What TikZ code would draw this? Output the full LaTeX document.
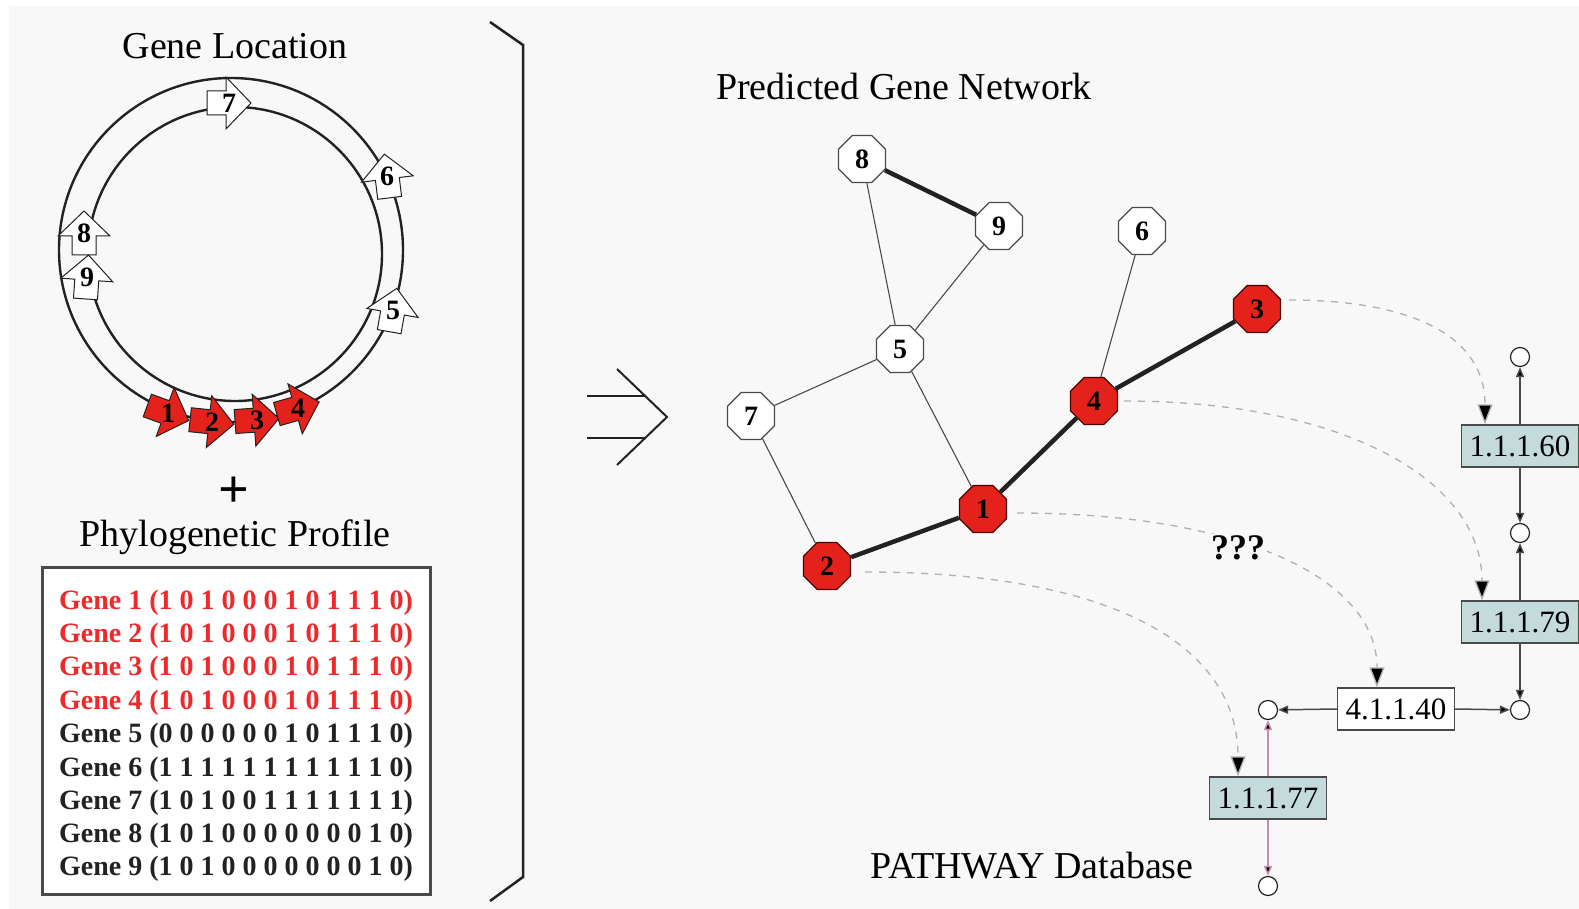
\documentclass[tikz,border=0pt]{standalone}
\usepackage{fontspec}
\setmainfont{Liberation Serif}
\usetikzlibrary{arrows.meta,shapes.geometric}

\definecolor{bg}{HTML}{F8F8F8}
\definecolor{genered}{HTML}{E4221B}
\definecolor{txtred}{HTML}{F0282A}
\definecolor{ecbox}{HTML}{C4DADB}
\definecolor{dashgray}{HTML}{B0B0B0}
\definecolor{linegray}{HTML}{4A4A4A}
\definecolor{pinkline}{HTML}{C98BB0}
\definecolor{ink}{HTML}{222222}

\newcommand{\fsz}[1]{\fontsize{#1}{#1}\selectfont}

% gene drawn as a block arrow on the chromosome ring
% #1 name, #2 x, #3 y, #4 direction, #5 fill, #6 label
\newcommand{\genearrow}[6]{%
  \begin{scope}[shift={(#2,#3)},rotate=#4]
    \draw[genebody,fill=#5] (-22,-12)--(-3,-12)--(-3,-26)--(22,0)--(-3,26)--(-3,12)--(-22,12)--cycle;
  \end{scope}
  \node[genelabel] (#1) at (#2,#3) {#6};}

\tikzset{
  title/.style={font=\fsz{38}, inner sep=0pt},
  genebody/.style={draw=ink, line width=1pt, line join=miter},
  genelabel/.style={font=\fsz{28}\bfseries, inner sep=0pt},
  profline/.style={font=\fsz{28}\bfseries, anchor=west, inner sep=0pt},
  gnode/.style={regular polygon, regular polygon sides=8, minimum size=51pt,
    inner sep=0pt, draw=linegray, line width=1.2pt, fill=white, font=\fsz{28}\bfseries},
  rnode/.style={gnode, fill=genered, draw=black!70!red},
  thin edge/.style={draw=linegray, line width=1.1pt},
  thick edge/.style={draw=ink, line width=4.5pt},
  dashlink/.style={draw=dashgray, line width=1.3pt, dash pattern=on 7pt off 7pt,
    -{Triangle[length=20pt,width=15pt,fill=black]}},
  ecnum/.style={draw=linegray, line width=1.3pt, fill=ecbox, font=\fsz{31},
    minimum width=117pt, minimum height=42pt, inner sep=0pt},
  metab/.style={circle, draw=ink, line width=1.2pt, fill=white, minimum size=19pt, inner sep=0pt},
  react/.style={draw=linegray, line width=1.5pt, -{Triangle[length=10pt,width=8pt,fill=black]}},
}

\begin{document}
\begin{tikzpicture}[x=1pt,y=-1pt]
  % page and panel background
  \fill[white] (0,0) rectangle (1579,909);
  \fill[bg] (9,6) rectangle (1579,909);
  \useasboundingbox (0,0) rectangle (1579,909);

  % ---------- chromosome with gene locations ----------
  \node[title] (loctitle) at (235,46) {Gene Location};
  \draw[ink, line width=2.4pt] (231,250) circle[radius=172];
  \draw[ink, line width=2.4pt] (235,254) circle[radius=147];

  \genearrow{a7}{229}{103}{0}{white}{7}
  \genearrow{a6}{387}{176}{97}{white}{6}
  \genearrow{a5}{393}{310}{80}{white}{5}
  \genearrow{a8}{84}{233}{90}{white}{8}
  \genearrow{a9}{87}{277}{86}{white}{9}
  \genearrow{a1}{168}{413}{-20}{genered}{1}
  \genearrow{a2}{212}{422}{-6}{genered}{2}
  \genearrow{a3}{257}{420}{4}{genered}{3}
  \genearrow{a4}{298}{408}{16}{genered}{4}

  \node[font=\fsz{54}\bfseries, inner sep=0pt] (plus) at (234,492) {+};

  % ---------- phylogenetic profiles ----------
  \node[title] (proftitle) at (235,537) {Phylogenetic Profile};
  \draw[draw=linegray, line width=3pt, fill=white] (42,567) rectangle (430,894);
  \node[profline, txtred] (g1) at (59,603) {Gene 1 (1 0 1 0 0 0 1 0 1 1 1 0)};
  \node[profline, txtred] (g2) at (59,636) {Gene 2 (1 0 1 0 0 0 1 0 1 1 1 0)};
  \node[profline, txtred] (g3) at (59,669) {Gene 3 (1 0 1 0 0 0 1 0 1 1 1 0)};
  \node[profline, txtred] (g4) at (59,703) {Gene 4 (1 0 1 0 0 0 1 0 1 1 1 0)};
  \node[profline, ink] (g5) at (59,736) {Gene 5 (0 0 0 0 0 0 1 0 1 1 1 0)};
  \node[profline, ink] (g6) at (59,770) {Gene 6 (1 1 1 1 1 1 1 1 1 1 1 0)};
  \node[profline, ink] (g7) at (59,803) {Gene 7 (1 0 1 0 0 1 1 1 1 1 1 1)};
  \node[profline, ink] (g8) at (59,836) {Gene 8 (1 0 1 0 0 0 0 0 0 0 1 0)};
  \node[profline, ink] (g9) at (59,869) {Gene 9 (1 0 1 0 0 0 0 0 0 0 1 0)};

  % ---------- bracket and implication ----------
  \draw[ink, line width=2.5pt, line join=miter] (490,22) -- (523,45) -- (523,877) -- (490,901);
  \draw[ink, line width=2pt] (587,396) -- (645,396);
  \draw[ink, line width=2pt] (587,438) -- (645,438);
  \draw[ink, line width=2pt, line join=miter] (617,369) -- (667,417) -- (617,465);

  % ---------- predicted network ----------
  \node[title] (nettitle) at (904,87) {Predicted Gene Network};
  \node[gnode] (n8) at (862,159) {8};
  \node[gnode] (n9) at (999,226) {9};
  \node[gnode] (n6) at (1142,231) {6};
  \node[gnode] (n5) at (900,349) {5};
  \node[gnode] (n7) at (751,416) {7};
  \node[rnode] (n3) at (1257,309) {3};
  \node[rnode] (n4) at (1094,401) {4};
  \node[rnode] (n1) at (983,509) {1};
  \node[rnode] (n2) at (827,566) {2};

  \draw[thin edge] (n8) -- (n5);
  \draw[thin edge] (n9) -- (n5);
  \draw[thin edge] (n5) -- (n7);
  \draw[thin edge] (n5) -- (n1);
  \draw[thin edge] (n7) -- (n2);
  \draw[thin edge] (n6) -- (n4);
  \draw[thick edge] (n8) -- (n9);
  \draw[thick edge] (n2) -- (n1);
  \draw[thick edge] (n1) -- (n4);
  \draw[thick edge] (n4) -- (n3);

  % ---------- pathway ----------
  \node[title] (pwtitle) at (1032,866) {PATHWAY Database};
  \node[ecnum] (p60) at (1520,446) {1.1.1.60};
  \node[ecnum] (p79) at (1520,622) {1.1.1.79};
  \node[ecnum, fill=white] (p40) at (1396,709) {4.1.1.40};
  \node[ecnum] (p77) at (1268,798) {1.1.1.77};
  \node[metab] (c1) at (1520,357) {};
  \node[metab] (c2) at (1520,533) {};
  \node[metab] (c3) at (1520,710) {};
  \node[metab] (c4) at (1268,710) {};
  \node[metab] (c5) at (1268,886) {};

  \draw[react] (p60.north) -- (c1);
  \draw[react] (p60.south) -- (c2);
  \draw[react] (p79.north) -- (c2);
  \draw[react] (p79.south) -- (c3);
  \draw[react] (p40.east) -- (c3);
  \draw[react] (p40.west) -- (c4);
  \draw[react, draw=pinkline] (p77.north) -- (c4);
  \draw[react, draw=pinkline] (p77.south) -- (c5);

  % gene-to-enzyme assignments
  \draw[dashlink] ([xshift=8pt,yshift=9pt]n3.east) .. controls +(120,0) and +(0,-90) .. ([xshift=-35pt]p60.north);
  \draw[dashlink] ([xshift=6pt]n4.east) .. controls +(220,0) and +(0,-120) .. ([xshift=-38pt]p79.north);
  \draw[dashlink] ([xshift=10pt,yshift=-4pt]n1.east) .. controls +(220,0) and +(0,-110) .. ([xshift=-19pt]p40.north);
  \draw[dashlink] ([xshift=14pt,yshift=-6pt]n2.east) .. controls +(250,0) and +(0,-130) .. ([xshift=-30pt]p77.north);
  \node[font=\fsz{36}\bfseries, fill=bg, inner sep=2pt] (unk) at (1238,548) {???};
\end{tikzpicture}
\end{document}
